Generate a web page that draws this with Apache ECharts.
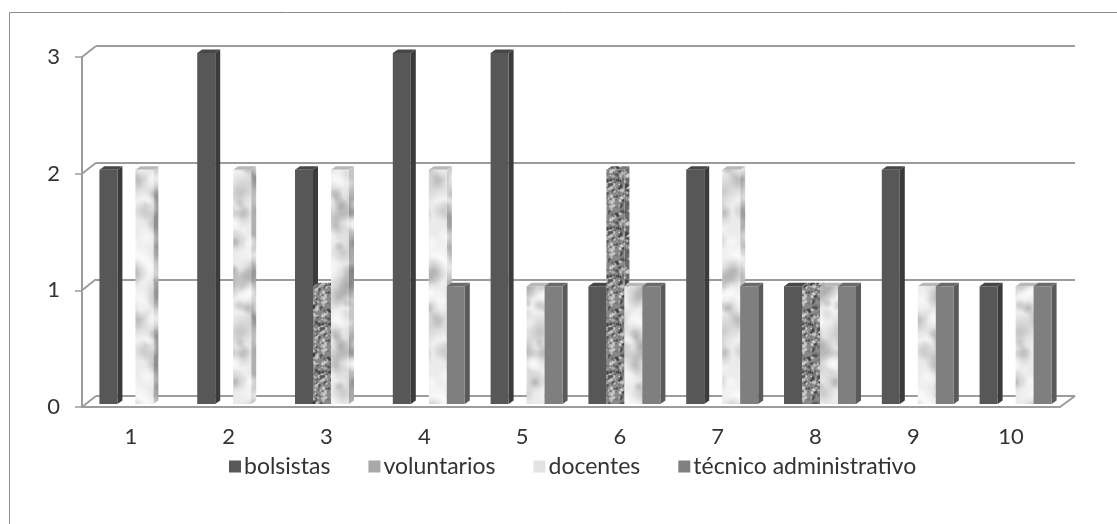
<!DOCTYPE html>
<html>
<head>
<meta charset="utf-8">
<script src="https://cdn.jsdelivr.net/npm/echarts@6/dist/echarts.min.js"></script>
<style>
  html, body { margin: 0; padding: 0; background: #ffffff; }
  #chart { width: 1117px; height: 524px; }
</style>
</head>
<body>
<div id="chart"></div>
<script>
// Number of people per project, by role
const categories = ['1', '2', '3', '4', '5', '6', '7', '8', '9', '10'];
const bolsistas = [2, 3, 2, 3, 3, 1, 2, 1, 2, 1];
const voluntarios = [0, 0, 1, 0, 0, 2, 0, 1, 0, 0];
const docentes = [2, 2, 2, 2, 1, 1, 2, 1, 1, 1];
const tecnicoAdministrativo = [0, 0, 0, 1, 1, 1, 1, 1, 1, 1];
const seriesNames = ['bolsistas', 'voluntarios', 'docentes', 'técnico administrativo'];
const yTicks = [0, 1, 2, 3];

const FONT = 'Lato, "Open Sans", sans-serif';
const AXIS_GRAY = '#9c9c9c';
const TEXT = '#333333';

// Deterministic pseudo-noise for the surface textures
function hash(i) {
  const s = Math.sin(i * 12.9898 + 78.233) * 43758.5453;
  return s - Math.floor(s);
}

// Speckled stone texture
function makeGranite(base) {
  const size = 48;
  const c = document.createElement('canvas');
  c.width = size; c.height = size;
  const g = c.getContext('2d');
  g.fillStyle = base;
  g.fillRect(0, 0, size, size);
  for (let k = 0; k < 380; k++) {
    const x = hash(k * 3 + 1) * size;
    const y = hash(k * 3 + 2) * size;
    const t = hash(k * 3 + 3);
    const r = 0.7 + hash(k * 7 + 5) * 1.4;
    g.fillStyle = t < 0.3 ? 'rgba(45,45,45,0.6)'
      : (t < 0.68 ? 'rgba(215,215,215,0.7)' : 'rgba(115,115,115,0.7)');
    for (const ox of [0, -size, size]) {
      for (const oy of [0, -size, size]) {
        g.beginPath();
        g.arc(x + ox, y + oy, r, 0, Math.PI * 2);
        g.fill();
      }
    }
  }
  return c;
}

// Soft veined marble texture
function makeMarble(base, vein) {
  const w = 60, h = 140;
  const c = document.createElement('canvas');
  c.width = w; c.height = h;
  const g = c.getContext('2d');
  g.fillStyle = base;
  g.fillRect(0, 0, w, h);
  for (let k = 0; k < 70; k++) {
    const x = hash(k * 5 + 11) * w;
    const y = hash(k * 5 + 12) * h;
    const r = 5 + hash(k * 5 + 13) * 13;
    const light = hash(k * 5 + 14) < 0.35;
    const col = light ? '255,255,255' : vein;
    const a = light ? 0.6 : 0.3;
    for (const ox of [0, -w, w]) {
      for (const oy of [0, -h, h]) {
        const gr = g.createRadialGradient(x + ox, y + oy, 0, x + ox, y + oy, r);
        gr.addColorStop(0, 'rgba(' + col + ',' + a + ')');
        gr.addColorStop(1, 'rgba(' + col + ',0)');
        g.fillStyle = gr;
        g.beginPath();
        g.arc(x + ox, y + oy, r, 0, Math.PI * 2);
        g.fill();
      }
    }
  }
  return c;
}

const pattern = (canvas) => ({ image: canvas, repeat: 'repeat' });

const looks = [
  { legend: '#595959', front: '#575757', side: '#3b3b3b', top: '#474747' },
  { legend: '#a8a8a8', front: pattern(makeGranite('#8a8a8a')), side: pattern(makeGranite('#666666')), top: pattern(makeGranite('#767676')) },
  { legend: '#e3e3e3', front: pattern(makeMarble('#ebebeb', '120,120,120')), side: pattern(makeMarble('#b0b0b0', '90,90,90')), top: '#b8b8b8' },
  { legend: '#808080', front: '#7f7f7f', side: '#5a5a5a', top: '#6b6b6b' }
];
const seriesValues = [bolsistas, voluntarios, docentes, tecnicoAdministrativo];

// A column with a shaded right side and top, placed in its slot within the category
function barRenderer(idx) {
  const look = looks[idx];
  return function (params, api) {
    const v = api.value(1);
    if (!v) return { type: 'group', children: [] };
    const k = api.value(0);
    const band = api.size([1, 0])[0];
    const top = api.coord([k, v]);
    const base = api.coord([k, 0]);
    const w = band * 0.184;
    const x0 = top[0] - band * 0.322 + idx * w;
    const x1 = x0 + w;
    const y0 = top[1] - 4;
    const y1 = base[1] - 3;
    const dx = 5, dy = 3.5;
    return {
      type: 'group',
      children: [
        { type: 'polygon', shape: { points: [[x1, y0], [x1 + dx, y0 - dy], [x1 + dx, y1 - dy], [x1, y1]] }, style: { fill: look.side } },
        { type: 'polygon', shape: { points: [[x0, y0], [x0 + dx, y0 - dy], [x1 + dx, y0 - dy], [x1, y0]] }, style: { fill: look.top } },
        { type: 'rect', shape: { x: x0, y: y0, width: w, height: y1 - y0 }, style: { fill: look.front } }
      ]
    };
  };
}

// Diagonal edges joining the front axis to the back wall
const WALL_DX = 14, WALL_DY = -11;
function wallRenderer(params, api) {
  const v = api.value(1);
  const band = api.size([1, 0])[0];
  const p = api.coord([0, v]);
  const x = p[0] - band / 2;
  return {
    type: 'line',
    shape: { x1: x, y1: p[1], x2: x + WALL_DX, y2: p[1] + WALL_DY },
    style: { stroke: AXIS_GRAY, lineWidth: 2 }
  };
}
function floorCornerRenderer(params, api) {
  const band = api.size([1, 0])[0];
  const p = api.coord([api.value(0), 0]);
  const x = p[0] + band / 2;
  return {
    type: 'line',
    shape: { x1: x, y1: p[1], x2: x + WALL_DX + 1, y2: p[1] + WALL_DY },
    style: { stroke: AXIS_GRAY, lineWidth: 2 }
  };
}

const chart = echarts.init(document.getElementById('chart'), null, { renderer: 'canvas' });

const barSeries = seriesNames.map((name, i) => ({
  name: name,
  type: 'custom',
  xAxisIndex: 0,
  yAxisIndex: 0,
  z: 3 + i,
  silent: true,
  itemStyle: { color: looks[i].legend },
  renderItem: barRenderer(i),
  data: seriesValues[i].map((val, k) => [k, val])
}));

chart.setOption({
  animation: false,
  textStyle: { fontFamily: FONT },
  graphic: [{
    type: 'rect',
    silent: true,
    z: -10,
    shape: { x: 9.5, y: 12.5, width: 1300, height: 700 },
    style: { fill: 'none', stroke: '#8c8c8c', lineWidth: 1 }
  }],
  grid: [
    { left: 82, right: 57, top: 57, bottom: 117 },
    { left: 96, right: 42, top: 46, bottom: 128 }
  ],
  xAxis: [
    {
      type: 'category', gridIndex: 0, data: categories,
      axisLine: { lineStyle: { color: AXIS_GRAY, width: 2 } },
      axisTick: { length: 8, lineStyle: { color: AXIS_GRAY, width: 1.5 } },
      axisLabel: { color: TEXT, fontSize: 22, fontFamily: FONT, margin: 19 },
      splitLine: { show: false }
    },
    { type: 'category', gridIndex: 1, data: categories, show: false }
  ],
  yAxis: [
    {
      type: 'value', gridIndex: 0, min: 0, max: 3, interval: 1,
      axisLine: { show: true, lineStyle: { color: AXIS_GRAY, width: 2 } },
      axisTick: { show: true, length: 7, lineStyle: { color: AXIS_GRAY, width: 1.5 } },
      axisLabel: { color: TEXT, fontSize: 22, fontFamily: FONT, margin: 22 },
      splitLine: { show: false }
    },
    {
      type: 'value', gridIndex: 1, min: 0, max: 3, interval: 1,
      axisLine: { show: false }, axisTick: { show: false }, axisLabel: { show: false },
      splitLine: { show: true, lineStyle: { color: AXIS_GRAY, width: 2 } }
    }
  ],
  legend: {
    left: 224,
    top: 450,
    itemWidth: 12,
    itemHeight: 12,
    itemGap: 38,
    icon: 'rect',
    textStyle: { color: TEXT, fontSize: 23, fontFamily: FONT, padding: [0, 0, 0, -2] },
    data: seriesNames.map((n, i) => ({ name: n, itemStyle: { color: looks[i].legend } }))
  },
  series: [
    {
      type: 'custom', xAxisIndex: 0, yAxisIndex: 0, silent: true, z: 1,
      renderItem: wallRenderer,
      data: yTicks.map(v => [0, v])
    },
    {
      type: 'custom', xAxisIndex: 0, yAxisIndex: 0, silent: true, z: 1,
      renderItem: floorCornerRenderer,
      data: [[categories.length - 1, 0]]
    }
  ].concat(barSeries)
});
</script>
</body>
</html>
